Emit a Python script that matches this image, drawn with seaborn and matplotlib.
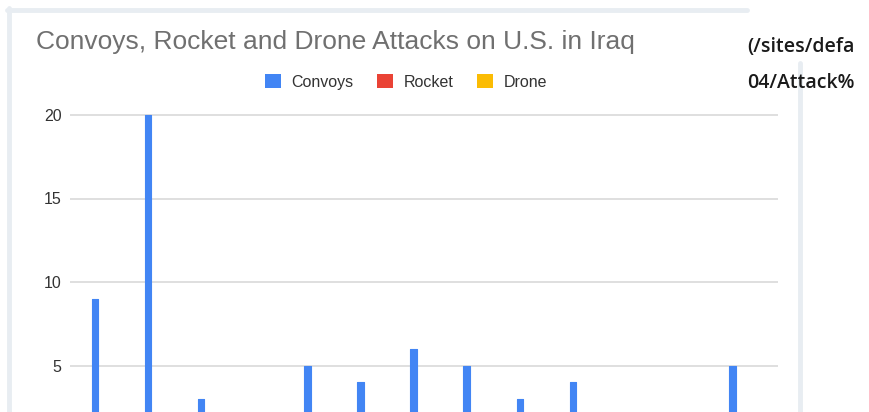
import matplotlib
matplotlib.use("Agg")
import matplotlib.pyplot as plt
from matplotlib.patches import Patch, Rectangle
from matplotlib.lines import Line2D
import seaborn as sns
import pandas as pd

# ---- data ----
periods = [f"P{i+1}" for i in range(13)]
convoys = [9, 20, 3, 0, 5, 4, 6, 5, 3, 4, 0, 0, 5]
rocket = [0] * 13
drone = [0] * 13
series_names = ["Convoys", "Rocket", "Drone"]
colors = ["#4285f4", "#ea4335", "#fbbc04"]
title = "Convoys, Rocket and Drone Attacks on U.S. in Iraq"
yticks = [5, 10, 15, 20]

df = pd.DataFrame({
    "period": periods * 3,
    "series": ["Convoys"] * 13 + ["Rocket"] * 13 + ["Drone"] * 13,
    "value": convoys + rocket + drone,
})

W, H = 870, 412
sns.set_theme(style="white")
plt.rcParams["font.family"] = ["Liberation Sans", "DejaVu Sans"]

fig = plt.figure(figsize=(W / 100, H / 100), dpi=100)
fig.patch.set_facecolor("white")

ax_left, ax_right, ax_top = 70, 778, 100
ax = fig.add_axes([ax_left / W, 0, (ax_right - ax_left) / W, 1 - ax_top / H])

bw = 0.37
sns.barplot(data=df, x="period", y="value", hue="series", hue_order=series_names,
            palette=colors, width=bw, dodge=True, legend=False, ax=ax,
            saturation=1, linewidth=0)
for p in ax.patches:
    p.set_edgecolor(p.get_facecolor())
    p.set_linewidth(0.8)
    p.set_joinstyle("round")

px_per_unit = 16.7
off = bw / 3
ax.set_ylim(20 - (H - 115) / px_per_unit, 20 + 15 / px_per_unit)
ax.set_xlim(-off - 0.47, 12 - off + 0.86)
ax.set_yticks(yticks)
ax.set_yticklabels([str(t) for t in yticks], fontsize=11.5, color="#333333")
ax.tick_params(axis="y", length=0, pad=6)
ax.set_xticks([])
ax.set_xlabel("")
ax.set_ylabel("")
ax.yaxis.grid(True, color="#d9d9d9", linewidth=1.2)
ax.set_axisbelow(True)
for s in ax.spines.values():
    s.set_visible(False)
ax.patch.set_alpha(0)

# title
fig.text(36 / W, 1 - 42 / H, title, fontsize=19, color="#707070",
         ha="left", va="center")

# legend
handles = [Patch(facecolor=c, edgecolor="none", label=n) for c, n in zip(colors, series_names)]
fig.legend(handles=handles, loc="center", bbox_to_anchor=(406 / W, 1 - 82 / H),
           ncol=3, frameon=False, fontsize=11.5, handlelength=1.0, handleheight=1.0,
           handletextpad=0.65, columnspacing=1.5, labelcolor="#333333")

# frame lines of the screenshot
fc = "#e8edf2"
fig.add_artist(Line2D([7 / W, 747 / W], [1 - 9.5 / H, 1 - 9.5 / H], color=fc, lw=3.5))
fig.add_artist(Line2D([9.5 / W, 9.5 / W], [1 - 8 / H, 0], color=fc, lw=3.5))
fig.add_artist(Line2D([800 / W, 800 / W], [1 - 63 / H, 0], color=fc, lw=3.5))

# side text (clipped at the container edge)
clip = Rectangle((0, 0), 854 / W, 1, transform=fig.transFigure, visible=False)
fig.add_artist(clip)
for txt, yy in [("(/sites/defa", 47), ("04/Attack%", 83)]:
    t = fig.text(747 / W, 1 - yy / H, txt, fontsize=14, fontweight="semibold",
                 family=["Open Sans", "DejaVu Sans"], color="#1a1a1a",
                 ha="left", va="center")
    t.set_clip_path(clip)
    t.set_clip_on(True)

fig.savefig("out.png", dpi=100)
